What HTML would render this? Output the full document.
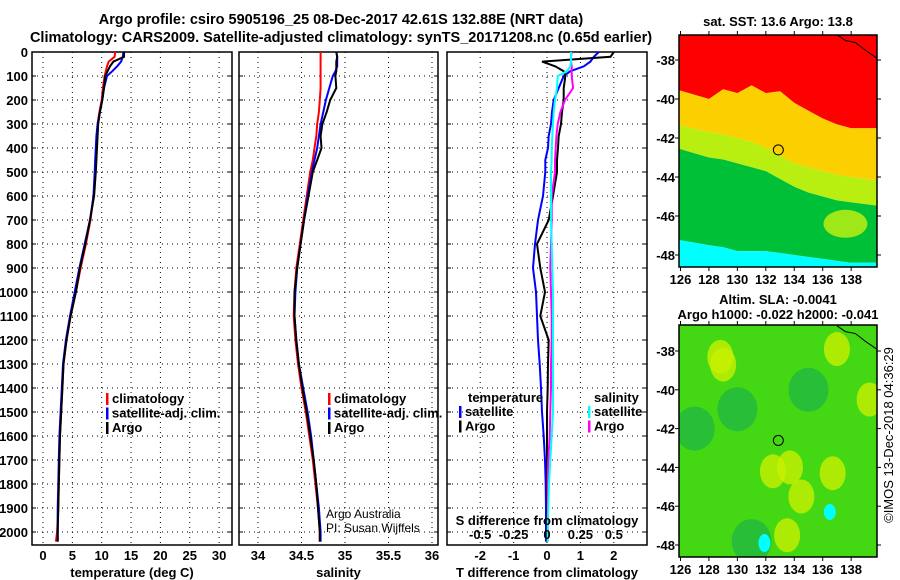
<!DOCTYPE html>
<html><head><meta charset="utf-8"><style>
html,body{margin:0;padding:0;background:#fff;}
svg{display:block;font-family:"Liberation Sans",sans-serif;}
.b{font-weight:bold;font-size:13px;}
</style></head><body>
<svg id="chart" width="900" height="580" viewBox="0 0 900 580" xmlns="http://www.w3.org/2000/svg">
<text x="341" y="24" text-anchor="middle" class="b" style="font-size:14.5px">Argo profile: csiro 5905196_25 08-Dec-2017 42.61S 132.88E (NRT data)</text>
<text x="341" y="42" text-anchor="middle" class="b" style="font-size:14.5px">Climatology: CARS2009. Satellite-adjusted climatology: synTS_20171208.nc (0.65d earlier)</text>
<text transform="translate(893,435) rotate(-90)" text-anchor="middle" style="font-size:13px">©IMOS 13-Dec-2018 04:36:29</text>
<g id="g"></g>
</svg>
<script>
const depths=[0,20,40,60,80,100,150,200,250,300,350,400,450,500,600,700,800,900,1000,1100,1200,1300,1400,1500,1600,1700,1800,1900,2000,2040];
const tempClim=[12.3,12.2,11.2,10.9,10.7,10.5,10.2,10.0,9.6,9.3,9.2,9.1,9.0,8.9,8.6,8.1,7.3,6.4,5.6,4.7,4.0,3.5,3.3,3.1,2.9,2.8,2.7,2.6,2.4,2.2];
const tempSat=[13.7,13.6,13.3,12.6,11.8,10.9,10.4,10.1,9.7,9.3,9.1,9.0,8.9,8.8,8.6,8.0,7.1,6.2,5.4,4.6,3.9,3.4,3.2,3.0,2.8,2.7,2.6,2.5,2.5,2.5];
const tempArgo=[13.8,13.8,12.0,11.4,11.0,10.6,10.4,10.1,9.7,9.4,9.3,9.2,9.1,9.0,8.7,8.0,7.2,6.3,5.6,4.7,4.0,3.5,3.3,3.1,2.9,2.8,2.7,2.6,2.5,2.5];
const salClim=[34.72,34.72,34.72,34.72,34.72,34.72,34.72,34.71,34.70,34.68,34.67,34.65,34.63,34.60,34.56,34.52,34.48,34.44,34.42,34.41,34.43,34.46,34.50,34.55,34.59,34.63,34.66,34.69,34.71,34.71];
const salSat=[34.90,34.91,34.91,34.91,34.89,34.86,34.82,34.78,34.75,34.72,34.70,34.68,34.65,34.62,34.57,34.53,34.49,34.45,34.43,34.42,34.44,34.47,34.52,34.57,34.61,34.64,34.67,34.70,34.72,34.72];
const salArgo=[34.90,34.91,34.90,34.90,34.90,34.89,34.90,34.83,34.79,34.74,34.72,34.73,34.68,34.63,34.58,34.53,34.49,34.45,34.42,34.42,34.44,34.47,34.51,34.56,34.60,34.64,34.67,34.69,34.71,34.71];
const dTempSat=[1.55,1.4,1.3,1.1,0.7,0.5,0.35,0.2,0.15,0.12,0.05,0.03,-0.05,-0.05,-0.12,-0.27,-0.36,-0.42,-0.33,-0.3,-0.27,-0.22,-0.18,-0.15,-0.1,-0.06,-0.04,-0.03,-0.03,-0.03];
const dTempArgo=[2.0,1.9,-0.15,0.25,0.5,0.55,0.5,0.5,0.45,0.42,0.35,0.33,0.3,0.3,0.18,0.05,-0.3,-0.2,-0.06,-0.2,0.05,0.03,0.02,0.0,0.0,0.0,0.0,0.0,0.0,0.0];
const dSalSat=[0.18,0.18,0.18,0.175,0.15,0.08,0.075,0.06,0.05,0.045,0.04,0.035,0.035,0.03,0.03,0.03,0.035,0.04,0.045,0.045,0.045,0.045,0.045,0.045,0.035,0.025,0.015,0.01,0.005,0.005];
const dSalArgo=[0.185,0.18,0.18,0.185,0.185,0.185,0.195,0.135,0.1,0.08,0.07,0.065,0.06,0.06,0.035,0.035,0.03,0.025,0.03,0.035,0.035,0.03,0.03,0.025,0.02,0.01,0.005,0.005,0.005,0.005];
const depthTicks=[0,100,200,300,400,500,600,700,800,900,1000,1100,1200,1300,1400,1500,1600,1700,1800,1900,2000];
const tempTicks=[0,5,10,15,20,25,30];
const salTicks=["34","34.5","35","35.5","36"];
const tdTicks=["-2","-1","0","1","2"];
const sdTicks=["-0.5","-0.25","0","0.25","0.5"];
const lonTicks=[126,128,130,132,134,136,138];
const latTicks=[-38,-40,-42,-44,-46,-48];
const bandLons=[126,128,129,130,131,132,133,134,135,136,137,138,139.8];
const redEdge=[-39.5,-40,-39.5,-39.7,-39.3,-39.7,-39.6,-40.2,-40.6,-41,-41.3,-41.5,-41.5];
const goldEdge=[-41.3,-41.7,-41.8,-42,-42.2,-42.5,-42.9,-43.3,-43.5,-43.7,-43.9,-44,-44.2];
const ygEdge=[-42.5,-43,-43.1,-43.3,-43.5,-43.7,-44.1,-44.5,-44.8,-45,-45.2,-45.3,-45.5];
const cyanEdge=[-47.2,-47.5,-47.6,-47.8,-47.8,-47.8,-47.9,-48,-48.1,-48.2,-48.3,-48.4,-48.4];
const argoLon=132.88, argoLat=-42.61;
const slaBlobLon=[129,128.8,132.5,133.7,134.5,136.7,139.3,127,137,133.5,131,135,130];
const slaBlobLat=[-38.7,-38.3,-44.2,-44.0,-45.5,-44.3,-40.5,-42,-37.9,-47.5,-47.8,-40,-41];
const slaBlobVal=[1,1,1,1,1,1,1,0,1,1,0,0,0];

const NS="http://www.w3.org/2000/svg";
const G=document.getElementById('g');
function mk(t,a,p){const e=document.createElementNS(NS,t);for(const k in a)e.setAttribute(k,a[k]);(p||G).appendChild(e);return e;}
const yD=d=>52+d*0.24;
const pTop=52,pBot=545;
function panel(name,x0,x1,xs,ticks,labels,label,showDepth){
  const r=mk('rect',{x:x0,y:pTop,width:x1-x0,height:pBot-pTop,fill:'none',stroke:'#000','stroke-width':1.5});
  
  
  ticks.forEach((t,i)=>{const x=xs(t);
    mk('line',{x1:x,x2:x,y1:pTop,y2:pBot,stroke:'#000','stroke-dasharray':'1,4'});
    if(labels){const tx=mk('text',{x:x,y:pBot+15,'text-anchor':'middle',class:'b'});tx.textContent=labels[i];
      
      }
  });
  depthTicks.forEach(d=>{const y=yD(d);
    mk('line',{x1:x0,x2:x1,y1:y,y2:y,stroke:'#000','stroke-dasharray':'1,4'});
    mk('line',{x1:x0,x2:x0+4,y1:y,y2:y,stroke:'#000'});mk('line',{x1:x1-4,x2:x1,y1:y,y2:y,stroke:'#000'});
    if(showDepth){const t=mk('text',{x:28,y:y+5,'text-anchor':'end',class:'b'});t.textContent=d;
      
      }
  });
  if(label){const t=mk('text',{x:(x0+x1)/2,y:pBot+32,'text-anchor':'middle',class:'b'});t.textContent=label;
    
    }
}
function line(vals,xs,col,name,w){
  const pts=vals.map((v,i)=>xs(v).toFixed(1)+','+yD(depths[i]).toFixed(1)).join(' ');
  const p=mk('polyline',{points:pts,fill:'none',stroke:col,'stroke-width':w||2});
  
  
}
function legend(x,y,items){
  items.forEach((it,i)=>{const yy=y+i*14.5;
    mk('rect',{x:x,y:yy-10,width:2.5,height:12,fill:it[0]});
    const t=mk('text',{x:x+6,y:yy,class:'b'});t.textContent=it[1];
    
    });
}
const xT=v=>43+v*5.87;
panel('temperature-panel',32,232,xT,tempTicks,tempTicks.map(String),'temperature (deg C)',true);
line(tempClim,xT,'#f00','temperature-climatology-line');
line(tempSat,xT,'#00f','temperature-satellite-line');
line(tempArgo,xT,'#000','temperature-argo-line');
legend(106,403,[['#f00','climatology'],['#00f','satellite-adj. clim.'],['#000','Argo']]);
const xS=v=>258+(v-34)*87;
panel('salinity-panel',239,438,xS,salTicks.map(Number),salTicks,'salinity',false);
line(salClim,xS,'#f00','salinity-climatology-line');
line(salSat,xS,'#00f','salinity-satellite-line');
line(salArgo,xS,'#000','salinity-argo-line');
legend(328,403,[['#f00','climatology'],['#00f','satellite-adj. clim.'],['#000','Argo']]);
[['Argo Australia',518],['PI: Susan Wijffels',532]].forEach(a=>{const t=mk('text',{x:326,y:a[1],style:'font-size:12px'});t.textContent=a[0];
  
  });
const xTd=v=>547+v*33.4, xSd=v=>547+v*133.6;
panel('difference-panel',447,647,xTd,tdTicks.map(Number),tdTicks,'T difference from climatology',false);
line(dTempSat,xTd,'#00f','temp-diff-satellite-line');
line(dTempArgo,xTd,'#000','temp-diff-argo-line');
line(dSalArgo,xSd,'#f0f','sal-diff-argo-line');
line(dSalSat,xSd,'#0ff','sal-diff-satellite-line');
sdTicks.forEach(s=>{const t=mk('text',{x:xSd(+s),y:539,'text-anchor':'middle',class:'b'});t.textContent=s;
  
  });
{const t=mk('text',{x:547,y:525,'text-anchor':'middle',class:'b'});t.textContent='S difference from climatology';
 
 }
{const t=mk('text',{x:468,y:402,class:'b'});t.textContent='temperature';
 
 }
{const t=mk('text',{x:594,y:402,class:'b'});t.textContent='salinity';
 
 }
legend(459,416,[['#00f','satellite'],['#000','Argo']]);
legend(588,416,[['#0ff','satellite'],['#f0f','Argo']]);
function map(name,y0,y1,title,fill){
  const x0=679,x1=877;
  const mx=l=>680.5+(l-126)*14.22;
  const lat38=name==='sst-map'?60:351, lat48=name==='sst-map'?255:545;
  const my=la=>lat38+(la+38)*(lat48-lat38)/(-10);
  const cp=mk('clipPath',{id:name+'-clip'});mk('rect',{x:x0,y:y0,width:x1-x0,height:y1-y0},cp);
  const g=mk('g',{'clip-path':'url(#'+name+'-clip)'});
  
  
  fill(g,mx,my,x0,x1,y0,y1);
  mk('polyline',{points:[[137,-36.7],[137.6,-37.0],[138.3,-37.1],[139,-37.5],[139.8,-37.9]].map(p=>mx(p[0])+','+my(p[1])).join(' '),fill:'none',stroke:'#000','stroke-width':1},g);
  const c=mk('circle',{cx:mx(argoLon),cy:my(argoLat),r:5,fill:'none',stroke:'#000','stroke-width':1});
  
  
  mk('rect',{x:x0,y:y0,width:x1-x0,height:y1-y0,fill:'none',stroke:'#000','stroke-width':1.5});
  lonTicks.forEach(l=>{const x=mx(l);mk('line',{x1:x,x2:x,y1:y0-4,y2:y0,stroke:'#000'});mk('line',{x1:x,x2:x,y1:y1,y2:y1+4,stroke:'#000'});
    const t=mk('text',{x:x,y:y1+17,'text-anchor':'middle',class:'b'});t.textContent=l;
    
    });
  latTicks.forEach(la=>{const y=my(la);mk('line',{x1:x0-4,x2:x0,y1:y,y2:y,stroke:'#000'});mk('line',{x1:x1,x2:x1+4,y1:y,y2:y,stroke:'#000'});
    const t=mk('text',{x:675,y:y+5,'text-anchor':'end',class:'b'});t.textContent=la;
    
    });
  title.forEach((s,i)=>{const t=mk('text',{x:778,y:(name==='sst-map'?26:304)+i*15,'text-anchor':'middle',class:'b'});t.textContent=s;
    
    });
}
function band(g,mx,my,upper,lower,col,yTop,yBot){
  let pts=bandLons.map((l,i)=>[mx(l),upper?my(upper[i]):yTop]);
  let pts2=bandLons.map((l,i)=>[mx(l),lower?my(lower[i]):yBot]).reverse();
  pts[0][0]-=5;pts[pts.length-1][0]+=5;pts2[0][0]+=5;pts2[pts2.length-1][0]-=5;
  mk('polygon',{points:pts.concat(pts2).map(p=>p.join(',')).join(' '),fill:col},g);
}
map('sst-map',35,267,['sat. SST: 13.6 Argo: 13.8'],(g,mx,my,x0,x1,y0,y1)=>{
  band(g,mx,my,null,redEdge,'#ff0000',y0,y1);
  band(g,mx,my,redEdge,goldEdge,'#fcd000',y0,y1);
  band(g,mx,my,goldEdge,ygEdge,'#b8ee10',y0,y1);
  band(g,mx,my,ygEdge,cyanEdge,'#00c038',y0,y1);
  band(g,mx,my,cyanEdge,null,'#00ffff',y0,y1);
  mk('ellipse',{cx:mx(137.6),cy:my(-46.4),rx:22,ry:14,fill:'#b8ee10',opacity:0.85},g);
});
map('sla-map',325,557,['Altim. SLA: -0.0041','Argo h1000: -0.022 h2000: -0.041'],(g,mx,my,x0,x1,y0,y1)=>{
  mk('rect',{x:x0,y:y0,width:x1-x0,height:y1-y0,fill:'#44d814'},g);
  slaBlobLon.forEach((l,i)=>{
    mk('ellipse',{cx:mx(l),cy:my(slaBlobLat[i]),rx:slaBlobVal[i]?13:20,ry:slaBlobVal[i]?17:22,fill:slaBlobVal[i]?'#c8f000':'#22b840',opacity:0.8},g);
  });
  mk('ellipse',{cx:mx(136.5),cy:my(-46.3),rx:6,ry:8,fill:'#00ffff'},g);
  mk('ellipse',{cx:mx(131.9),cy:my(-47.9),rx:6,ry:9,fill:'#00ffff'},g);
});
</script>
</body></html>
